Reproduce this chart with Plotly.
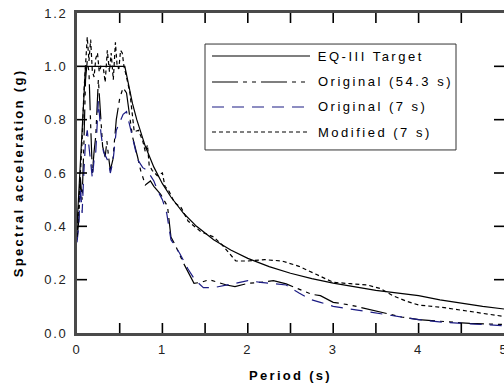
import plotly.graph_objects as go

# ---- data ----
T_target = [0.0, 0.1, 0.56, 0.6, 0.65, 0.7, 0.8, 0.9, 1.0, 1.1, 1.25, 1.4, 1.6, 1.8, 2.0,
            2.25, 2.5, 2.75, 3.0, 3.5, 4.0, 4.25, 4.5, 4.75, 5.0]
Sa_target = [0.40, 1.0, 1.0, 0.933, 0.86, 0.80, 0.70, 0.622, 0.56, 0.51, 0.448, 0.40, 0.35,
             0.311, 0.28, 0.249, 0.224, 0.204, 0.187, 0.16, 0.14, 0.124, 0.111, 0.10, 0.09]

T_orig54 = [0.0, 0.02, 0.04, 0.06, 0.08, 0.10, 0.12, 0.14, 0.16, 0.18, 0.20, 0.22, 0.25, 0.28,
            0.30, 0.33, 0.35, 0.37, 0.39, 0.42, 0.46, 0.50, 0.54, 0.58, 0.62, 0.65, 0.71, 0.745,
            0.80, 0.86, 0.90, 0.98, 1.06, 1.10, 1.15, 1.25, 1.37, 1.45, 1.55, 1.65, 1.75, 1.85,
            2.0, 2.15, 2.3, 2.45, 2.6, 2.75, 2.85, 3.0, 3.2, 3.4, 3.6, 3.8, 4.0, 4.3, 4.6, 5.0]
Sa_orig54 = [0.35, 0.42, 0.58, 0.50, 0.70, 0.95, 1.02, 0.98, 0.78, 0.60, 0.68, 0.74, 0.95, 0.80,
             0.70, 0.66, 0.72, 0.66, 0.61, 0.65, 0.80, 0.88, 0.92, 0.90, 0.80, 0.736, 0.66, 0.61,
             0.555, 0.57, 0.55, 0.52, 0.475, 0.36, 0.33, 0.26, 0.186, 0.19, 0.20, 0.19, 0.18, 0.174,
             0.186, 0.19, 0.196, 0.184, 0.165, 0.145, 0.14, 0.115, 0.105, 0.09, 0.076, 0.06, 0.05,
             0.042, 0.036, 0.032]

T_orig7 = [0.0, 0.02, 0.04, 0.06, 0.08, 0.10, 0.12, 0.14, 0.16, 0.18, 0.20, 0.22, 0.25, 0.28,
           0.31, 0.34, 0.37, 0.39, 0.42, 0.46, 0.50, 0.54, 0.58, 0.62, 0.66, 0.71, 0.77, 0.82,
           0.86, 0.90, 0.95, 1.0, 1.05, 1.1, 1.2, 1.3, 1.38, 1.48, 1.6, 1.75, 1.9, 2.0, 2.15,
           2.3, 2.45, 2.6, 2.74, 2.85, 3.0, 3.2, 3.4, 3.6, 3.8, 4.0, 4.3, 4.6, 5.0]
Sa_orig7 = [0.34, 0.40, 0.55, 0.45, 0.60, 0.72, 0.76, 0.70, 0.62, 0.58, 0.65, 0.68, 0.87, 0.75,
            0.68, 0.66, 0.64, 0.60, 0.64, 0.76, 0.79, 0.82, 0.83, 0.78, 0.72, 0.65, 0.62, 0.61,
            0.59, 0.57, 0.53, 0.50, 0.45, 0.35, 0.30, 0.24, 0.20, 0.17, 0.17, 0.18, 0.19, 0.196,
            0.19, 0.186, 0.18, 0.15, 0.125, 0.115, 0.10, 0.09, 0.08, 0.068, 0.058, 0.05, 0.04,
            0.034, 0.027]

T_mod7 = [0.0, 0.02, 0.04, 0.06, 0.08, 0.10, 0.12, 0.14, 0.16, 0.18, 0.20, 0.22, 0.24, 0.26,
          0.28, 0.31, 0.33, 0.355, 0.38, 0.40, 0.425, 0.45, 0.47, 0.49, 0.51, 0.53, 0.55, 0.58,
          0.62, 0.67, 0.72, 0.77, 0.80, 0.825, 0.845, 0.88, 0.94, 1.0, 1.03, 1.08, 1.14, 1.22,
          1.3, 1.45, 1.6, 1.7, 1.8, 1.86, 2.0, 2.2, 2.4, 2.6, 2.8, 3.0, 3.2, 3.4, 3.55, 3.7,
          3.85, 4.0, 4.3, 4.6, 5.0]
Sa_mod7 = [0.36, 0.48, 0.62, 0.72, 0.90, 1.00, 1.11, 1.02, 1.10, 0.98, 0.96, 1.03, 1.05, 0.98,
           1.00, 0.99, 0.94, 1.06, 0.98, 1.05, 0.95, 1.09, 1.00, 0.99, 1.06, 1.05, 1.00, 0.96,
           0.90, 0.755, 0.76, 0.72, 0.68, 0.705, 0.63, 0.61, 0.59, 0.60, 0.55, 0.53, 0.49, 0.47,
           0.42, 0.38, 0.36, 0.33, 0.29, 0.27, 0.27, 0.275, 0.27, 0.25, 0.22, 0.19, 0.185, 0.18,
           0.167, 0.14, 0.12, 0.105, 0.095, 0.08, 0.062]

legend_labels = ["EQ-III Target", "Original (54.3 s)", "Original (7 s)", "Modified (7 s)"]
x_tick_vals = [0, 0.5, 1, 1.5, 2, 2.5, 3, 3.5, 4, 4.5, 5]
x_tick_text = ["0", "", "1", "", "2", "", "3", "", "4", "", "5"]
y_tick_vals = [0.0, 0.2, 0.4, 0.6, 0.8, 1.0, 1.2]
y_tick_text = ["0.0", "0.2", "0.4", "0.6", "0.8", "1.0", "1.2"]

# ---- styles ----
BLUE = "#1c1c84"
styles = [
    dict(color="black", width=1.2, dash="solid"),
    dict(color="black", width=1.2, dash="26px,5px,4px,5px,4px,5px"),
    dict(color=BLUE, width=1.2, dash="12px,8px"),
    dict(color="black", width=1.2, dash="4px,3px"),
]
series = [(T_target, Sa_target), (T_orig54, Sa_orig54), (T_orig7, Sa_orig7), (T_mod7, Sa_mod7)]

fig = go.Figure()
for (xs, ys), st, name in zip(series, styles, legend_labels):
    fig.add_trace(go.Scatter(x=xs, y=ys, mode="lines", name=name, line=st,
                             showlegend=False, hoverinfo="skip"))

# ---- inward tick marks on all four sides, placed at the tick values ----
TICK = dict(color="black", width=1.6)
for xv in x_tick_vals[1:-1]:
    for anchor, y0, y1 in ((0, 0, 10), (1, 0, -10)):
        fig.add_shape(type="line", xref="x", yref="paper", x0=xv, x1=xv,
                      ysizemode="pixel", yanchor=anchor, y0=y0, y1=y1,
                      line=TICK, layer="above")
for yv in y_tick_vals[1:-1]:
    for anchor, x0, x1 in ((0, 0, 10), (1, 0, -10)):
        fig.add_shape(type="line", yref="y", xref="paper", y0=yv, y1=yv,
                      xsizemode="pixel", xanchor=anchor, x0=x0, x1=x1,
                      line=TICK, layer="above")

# ---- hand-drawn legend box (long sample lines like the reference) ----
L, R, TOP, BOT = 0.2998, 0.8876, 0.903, 0.572
rows = [0.8656, 0.7844, 0.7063, 0.6281]
fig.add_shape(type="rect", xref="paper", yref="paper", x0=L, x1=R, y0=BOT, y1=TOP,
              line=dict(color="#333333", width=1), fillcolor="white", layer="above")
for ry, st, name in zip(rows, styles, legend_labels):
    fig.add_shape(type="line", xref="paper", yref="paper", x0=0.3162, x1=0.5457, y0=ry, y1=ry,
                  line=dict(color=st["color"], width=1.2, dash=st["dash"]), layer="above")
    fig.add_annotation(xref="paper", yref="paper", x=0.5597, y=ry, text=name, showarrow=False,
                       xanchor="left", yanchor="middle",
                       font=dict(family="Liberation Sans, Arial", size=13, color="black"))

FONT = "Liberation Sans, Arial"
axis_style = dict(showline=True, linecolor="#4a4a4a", linewidth=2.5, mirror=True,
                  ticks="", showgrid=False, zeroline=False, ticklabeloverflow="allow",
                  tickfont=dict(family=FONT, size=13, color="#222222"))
fig.update_xaxes(range=[0, 5], tickmode="array", tickvals=x_tick_vals, ticktext=x_tick_text,
                 ticklabelstandoff=3,
                 title=dict(text="<b>Period (s)</b>", standoff=15,
                            font=dict(family=FONT, size=13, color="black")),
                 **axis_style)
fig.update_yaxes(range=[0, 1.2], tickmode="array", tickvals=y_tick_vals, ticktext=y_tick_text,
                 ticklabelstandoff=4,
                 title=dict(text="<b>Spectral acceleration (g)</b>", standoff=24,
                            font=dict(family=FONT, size=13, color="black")),
                 **axis_style)

fig.update_layout(template="none", width=504, height=387,
                  margin=dict(l=77, r=0, t=13, b=54, autoexpand=False),
                  paper_bgcolor="white", plot_bgcolor="white", showlegend=False)

post = """
document.body.style.margin='0';
var gd=document.getElementById('{plot_id}');
gd.querySelectorAll('.xtick text, .ytick text').forEach(function(t){t.style.letterSpacing='1.8px';});
gd.querySelectorAll('.g-xtitle text, .g-ytitle text').forEach(function(t){t.style.letterSpacing='2.3px';});
gd.querySelectorAll('.annotation-text').forEach(function(t){
  var w0=t.getBBox().width;
  t.style.letterSpacing='2.5px';
  var w1=t.getBBox().width;
  var x=parseFloat(t.getAttribute('x')||'0');
  t.setAttribute('x', x+(w1-w0)/2);
});
"""
fig.write_html("out.html", post_script=post, config={"displayModeBar": False})
